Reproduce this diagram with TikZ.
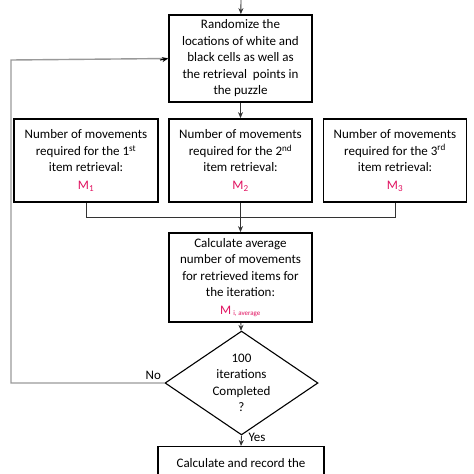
\documentclass[tikz,border=0pt]{standalone}
\usepackage{fontspec}
\setmainfont{Carlito}
\usepackage{tikz}
\usetikzlibrary{positioning, shapes.geometric, arrows.meta}
\definecolor{mred}{HTML}{E0115F}
\tikzset{
  boxnode/.style={draw, line width=1.8pt, align=center, inner sep=0pt},
  thinline/.style={draw=black!80, line width=0.9pt},
  loopline/.style={draw=black!40, line width=1.4pt},
}
\newcommand{\redM}[1]{\textcolor{mred}{M\textsubscript{#1}}}

\begin{document}
\begin{tikzpicture}[x=1pt,y=-1pt,>={Stealth[length=6pt,width=5pt]},
  font=\fontsize{13}{16.5}\selectfont]
\useasboundingbox (0,0) rectangle (474,474);
\clip (0,0) rectangle (474,474);
% top box
\coordinate(S) at (241,-2);
\node[boxnode, minimum width=143pt, minimum height=87pt](R) at (240.5,58.5)
  {Randomize the\\locations of white and\\black cells as well as\\the retrieval\ \ points in\\the puzzle};
\draw[thinline,->](S)--(R);
% three retrievals
\node[boxnode, minimum width=144pt, minimum height=83pt](N1) at (86,160.5)
  {Number of movements\\required for the 1\textsuperscript{st}\\item retrieval:\\[1pt]\redM{1}};
\node[boxnode, minimum width=143pt, minimum height=83pt](N2) at (240.5,160.5)
  {Number of movements\\required for the 2\textsuperscript{nd}\\item retrieval:\\[1pt]\redM{2}};
\node[boxnode, minimum width=143pt, minimum height=83pt](N3) at (395,160.5)
  {Number of movements\\required for the 3\textsuperscript{rd}\\item retrieval:\\[1pt]\redM{3}};
\draw[thinline,->](R)--(N2);
% average
\node[boxnode, minimum width=143pt, minimum height=89pt](A) at (240.5,277.5)
  {Calculate average\\number of movements\\for retrieved items for\\the iteration:\\[1pt]
   \textcolor{mred}{M\,\textsubscript{\scriptsize i, average}}};
\coordinate(J) at (N2.south|-0,217);
\draw[thinline](N1.south)|-(J);
\draw[thinline](N3.south)|-(J);
\draw[thinline,->](N2.south)--(A.north);
% decision
\node[draw, line width=1.1pt, diamond, minimum width=153pt, minimum height=90pt,
  inner sep=-3pt, align=center](D) at (241.5,383)
  {100\\iterations\\Completed\\?};
\draw[thinline,->](A)--(D);
\node[anchor=south east](No) at (D.west) {No};
\draw[loopline](D.west)-|(11,60)--(R.west);
\draw[->,black,line width=1.1pt](160,60)--(R.west);
% final
\node[draw, line width=1.1pt, anchor=north, minimum width=166pt, inner ysep=5pt,
  text height=16pt, text depth=40pt](F) at (241,446) {Calculate and record the};
\draw[thinline,->](D.south)--(F.north);
\node[anchor=west](Yes) at (245,437) {Yes};
\end{tikzpicture}
\end{document}
